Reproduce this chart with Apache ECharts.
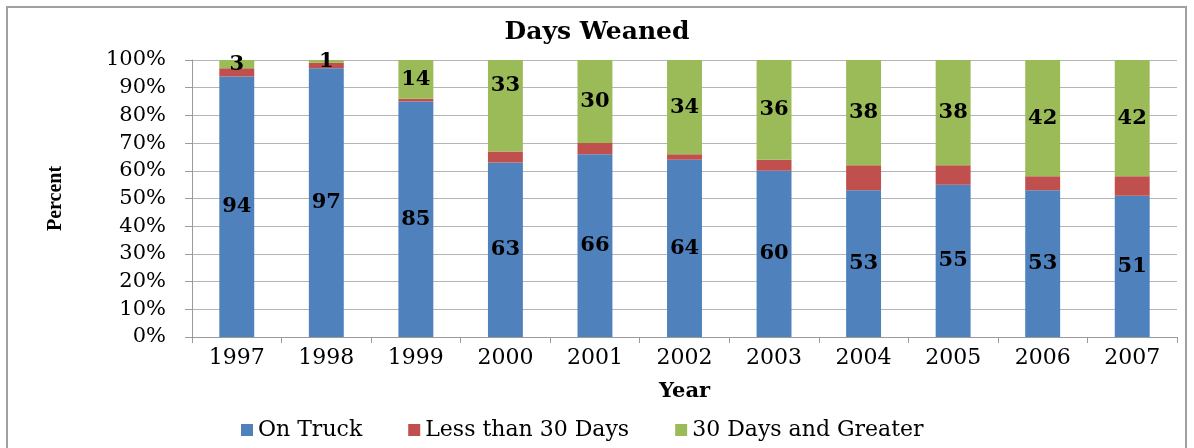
<!DOCTYPE html>
<html>
<head>
<meta charset="utf-8">
<script src="https://cdn.jsdelivr.net/npm/echarts@6/dist/echarts.min.js"></script>
<style>
  html, body { margin: 0; padding: 0; background: #fff; }
  #main { width: 1194px; height: 448px; }
</style>
</head>
<body>
<div id="main"></div>
<script>
// data
const years = ['1997', '1998', '1999', '2000', '2001', '2002', '2003', '2004', '2005', '2006', '2007']
const onTruck = [94, 97, 85, 63, 66, 64, 60, 53, 55, 53, 51]
const lessThan30 = [3, 2, 1, 4, 4, 2, 4, 9, 7, 5, 7]
const over30 = [3, 1, 14, 33, 30, 34, 36, 38, 38, 42, 42]

const serif = '"DejaVu Serif", "Liberation Serif", serif'
const times = '"Liberation Serif", serif'

const myChart = echarts.init(document.getElementById('main'))

const labelStyle = {
  show: true,
  position: 'inside',
  color: '#000',
  fontFamily: serif,
  fontWeight: 'bold',
  fontSize: 21
}

// in the original the 2000 label of the top segment sits a bit higher
const over30Data = over30.map((v, i) => years[i] === '2000' ? { value: v, label: { offset: [0, -20] } } : v)

const option = {
  backgroundColor: '#fff',
  // outer frame
  graphic: [{
    type: 'rect',
    shape: { x: 7, y: 7, width: 1179, height: 460 },
    style: { fill: 'none', stroke: '#a0a0a0', lineWidth: 2 },
    silent: true
  }],
  title: {
    text: 'Days Weaned',
    left: 'center',
    top: 15,
    textStyle: { fontFamily: serif, fontWeight: 'bold', fontSize: 25, color: '#000' }
  },
  color: ['#4F81BD', '#C0504D', '#9BBB59'],
  legend: {
    data: ['On Truck', 'Less than 30 Days', '30 Days and Greater'],
    bottom: 2,
    left: 236,
    itemWidth: 12,
    itemHeight: 12,
    itemGap: 46,
    icon: 'rect',
    textStyle: { fontFamily: serif, fontSize: 22, color: '#000' }
  },
  grid: { left: 192, right: 17, top: 60, bottom: 111 },
  xAxis: {
    type: 'category',
    data: years,
    name: 'Year',
    nameLocation: 'middle',
    nameGap: 44,
    nameTextStyle: { fontFamily: serif, fontWeight: 'bold', fontSize: 21, color: '#000' },
    axisLine: { lineStyle: { color: '#9a9a9a' } },
    axisTick: { show: true, length: 6, lineStyle: { color: '#9a9a9a' } },
    axisLabel: { fontFamily: serif, fontSize: 22, color: '#000', margin: 10 }
  },
  yAxis: {
    type: 'value',
    min: 0,
    max: 100,
    interval: 10,
    name: 'Percent',
    nameLocation: 'middle',
    nameGap: 126,
    nameRotate: 90,
    nameTextStyle: { fontFamily: times, fontWeight: 'bold', fontSize: 20, color: '#000' },
    axisLine: { show: true, lineStyle: { color: '#9a9a9a' } },
    axisTick: { show: true, length: 7, lineStyle: { color: '#9a9a9a' } },
    axisLabel: { formatter: '{value}%', fontFamily: serif, fontSize: 21, color: '#000', margin: 26 },
    splitLine: { lineStyle: { color: '#b4b4b4' } }
  },
  series: [
    { name: 'On Truck', type: 'bar', stack: 'total', barWidth: '39%', data: onTruck, label: labelStyle },
    { name: 'Less than 30 Days', type: 'bar', stack: 'total', data: lessThan30 },
    { name: '30 Days and Greater', type: 'bar', stack: 'total', data: over30Data, label: labelStyle }
  ]
}
myChart.setOption(option)
</script>
</body>
</html>
